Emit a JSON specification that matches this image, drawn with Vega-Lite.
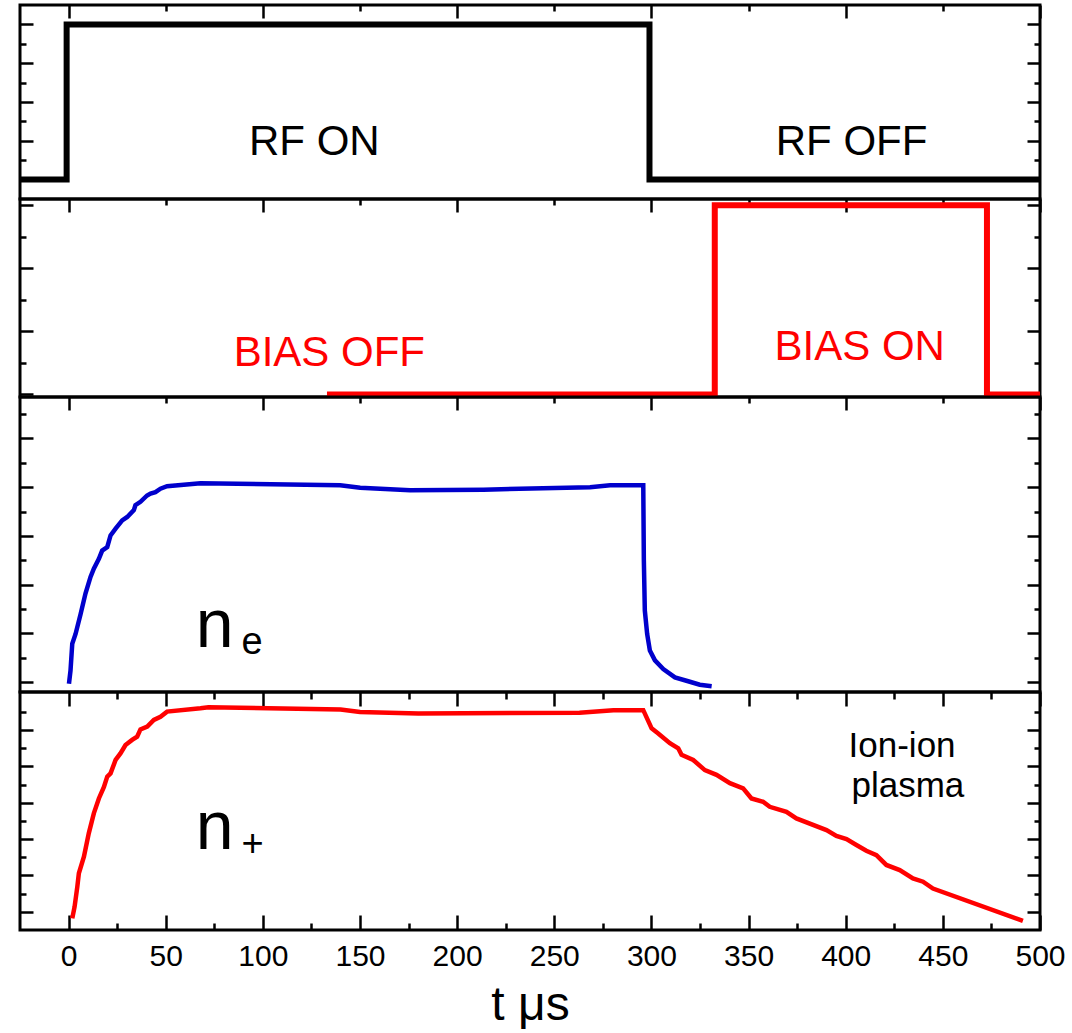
{
"$schema":"https://vega.github.io/schema/vega-lite/v6.json",
"padding":{"left":6,"top":2,"right":5,"bottom":0},
"spacing":0,
"bounds":"flush",
"config":{
 "view":{"stroke":"black","strokeWidth":3},
 "axis":{"labels":false,"domain":false,"grid":false,"tickColor":"black","tickWidth":2.5,"minExtent":0,"maxExtent":0,"titlePadding":0},
 "text":{"font":"Liberation Sans"}
},
"datasets":{
 "rf":[{"t":-25,"v":0},{"t":-1,"v":4},{"t":299,"v":0},{"t":500,"v":0}],
 "bias":[{"t":133,"v":0},{"t":332.6,"v":3},{"t":472.7,"v":0},{"t":500,"v":0}],
 "ne":[{"t":0.2,"v":-0.03},{"t":1.0,"v":0.24},{"t":1.9,"v":0.79},{"t":3.6,"v":0.99},{"t":6.2,"v":1.40},{"t":8.7,"v":1.82},{"t":11.3,"v":2.16},{"t":13.0,"v":2.33},{"t":15.6,"v":2.53},{"t":17.3,"v":2.70},{"t":19.9,"v":2.77},{"t":21.6,"v":3.01},{"t":24.2,"v":3.15},{"t":27.6,"v":3.32},{"t":30.2,"v":3.39},{"t":33.6,"v":3.53},{"t":34.4,"v":3.63},{"t":37.0,"v":3.70},{"t":40.4,"v":3.83},{"t":42.2,"v":3.87},{"t":44.7,"v":3.90},{"t":47.3,"v":3.97},{"t":50.7,"v":4.02},{"t":67.9,"v":4.08},{"t":139.8,"v":4.04},{"t":150.1,"v":3.99},{"t":175.8,"v":3.94},{"t":213.5,"v":3.95},{"t":268.4,"v":4.0},{"t":278.7,"v":4.04},{"t":295.8,"v":4.04},{"t":296.1,"v":2.5},{"t":296.6,"v":1.47},{"t":297.8,"v":0.99},{"t":299.2,"v":0.65},{"t":301.8,"v":0.45},{"t":306.1,"v":0.27},{"t":312.1,"v":0.10},{"t":318.9,"v":0.02},{"t":324.9,"v":-0.05},{"t":331.0,"v":-0.08}],
 "np":[{"t":1.9,"v":-0.18},{"t":3.1,"v":0.14},{"t":4.5,"v":0.69},{"t":5.3,"v":1.06},{"t":7.9,"v":1.52},{"t":10.4,"v":2.16},{"t":13.0,"v":2.71},{"t":15.6,"v":3.12},{"t":18.2,"v":3.44},{"t":19.9,"v":3.72},{"t":21.6,"v":3.81},{"t":24.2,"v":4.18},{"t":26.7,"v":4.36},{"t":29.3,"v":4.59},{"t":32.7,"v":4.73},{"t":35.3,"v":4.82},{"t":37.0,"v":5.02},{"t":40.5,"v":5.10},{"t":43.9,"v":5.28},{"t":47.3,"v":5.37},{"t":50.7,"v":5.51},{"t":67.9,"v":5.60},{"t":72,"v":5.63},{"t":140,"v":5.57},{"t":150,"v":5.50},{"t":180,"v":5.46},{"t":263,"v":5.48},{"t":280.4,"v":5.55},{"t":295.8,"v":5.55},{"t":300.1,"v":5.05},{"t":303.5,"v":4.91},{"t":309.5,"v":4.64},{"t":313.8,"v":4.50},{"t":315.5,"v":4.32},{"t":321.5,"v":4.18},{"t":327.5,"v":3.90},{"t":333.5,"v":3.77},{"t":340.4,"v":3.54},{"t":347.2,"v":3.40},{"t":351.5,"v":3.12},{"t":357.5,"v":3.03},{"t":360.9,"v":2.89},{"t":369.5,"v":2.75},{"t":374.6,"v":2.57},{"t":390.1,"v":2.25},{"t":395.2,"v":2.09},{"t":400.4,"v":2.0},{"t":405.5,"v":1.84},{"t":410.6,"v":1.68},{"t":415.8,"v":1.56},{"t":420.9,"v":1.29},{"t":427.8,"v":1.15},{"t":434.6,"v":0.92},{"t":439.8,"v":0.83},{"t":444.9,"v":0.64},{"t":491.2,"v":-0.25}]
},
"vconcat":[
 {"width":1020,"height":194,
  "resolve":{"axis":{"x":"independent","y":"independent"}},
  "layer":[
   {"data":{"name":"rf"},"mark":{"type":"line","color":"black","strokeWidth":6,"interpolate":"step-after"},
    "encoding":{
     "x":{"field":"t","type":"quantitative","scale":{"domain":[-25,500],"nice":false,"zero":false},"axis":{"orient":"top","values":[0,100,200,300,400,500],"tickSize":-13,"title":null}},
     "y":{"field":"v","type":"quantitative","scale":{"domain":[-0.5,4.5],"nice":false,"zero":false},"axis":{"orient":"left","values":[0,1,2,3,4],"tickSize":-13,"title":null}}}},
   {"data":{"name":"rf"},"mark":{"type":"point","opacity":0},
    "encoding":{
     "x":{"field":"t","type":"quantitative","scale":{"domain":[-25,500],"nice":false,"zero":false},"axis":{"orient":"top","values":[50,150,250,350,450],"tickSize":-6,"title":null}},
     "y":{"field":"v","type":"quantitative","scale":{"domain":[-0.5,4.5],"nice":false,"zero":false},"axis":{"orient":"left","values":[0.5,1.5,2.5,3.5],"tickSize":-6,"title":null}}}},
   {"data":{"name":"rf"},"mark":{"type":"point","opacity":0},
    "encoding":{
     "x":{"field":"t","type":"quantitative","scale":{"domain":[-25,500],"nice":false,"zero":false},"axis":null},
     "y":{"field":"v","type":"quantitative","scale":{"domain":[-0.5,4.5],"nice":false,"zero":false},"axis":{"orient":"right","values":[0,1,2,3,4],"tickSize":-13,"title":null}}}},
   {"data":{"name":"rf"},"mark":{"type":"point","opacity":0},
    "encoding":{
     "x":{"field":"t","type":"quantitative","scale":{"domain":[-25,500],"nice":false,"zero":false},"axis":null},
     "y":{"field":"v","type":"quantitative","scale":{"domain":[-0.5,4.5],"nice":false,"zero":false},"axis":{"orient":"right","values":[0.5,1.5,2.5,3.5],"tickSize":-6,"title":null}}}},
   {"data":{"values":[{"t":126.5,"v":0.96,"label":"RF ON"},{"t":403,"v":0.96,"label":"RF OFF"}]},
    "mark":{"type":"text","fontSize":42,"color":"black","align":"center","baseline":"middle"},
    "encoding":{
     "x":{"field":"t","type":"quantitative","scale":{"domain":[-25,500],"nice":false,"zero":false},"axis":null},
     "y":{"field":"v","type":"quantitative","scale":{"domain":[-0.5,4.5],"nice":false,"zero":false},"axis":null},
     "text":{"field":"label"}}}
  ]},
 {"width":1020,"height":198,
  "resolve":{"axis":{"x":"independent","y":"independent"}},
  "layer":[
   {"data":{"name":"bias"},"mark":{"type":"line","color":"#ff0000","strokeWidth":6,"interpolate":"step-after"},
    "encoding":{
     "x":{"field":"t","type":"quantitative","scale":{"domain":[-25,500],"nice":false,"zero":false},"axis":{"orient":"top","values":[0,100,200,300,400,500],"tickSize":-13,"title":null}},
     "y":{"field":"v","type":"quantitative","scale":{"domain":[-0.04,3.1],"nice":false,"zero":false},"axis":{"orient":"left","values":[0,1,2,3],"tickSize":-13,"title":null}}}},
   {"data":{"name":"bias"},"mark":{"type":"point","opacity":0},
    "encoding":{
     "x":{"field":"t","type":"quantitative","scale":{"domain":[-25,500],"nice":false,"zero":false},"axis":{"orient":"top","values":[50,150,250,350,450],"tickSize":-6,"title":null}},
     "y":{"field":"v","type":"quantitative","scale":{"domain":[-0.04,3.1],"nice":false,"zero":false},"axis":{"orient":"left","values":[0.5,1.5,2.5],"tickSize":-6,"title":null}}}},
   {"data":{"name":"bias"},"mark":{"type":"point","opacity":0},
    "encoding":{
     "x":{"field":"t","type":"quantitative","scale":{"domain":[-25,500],"nice":false,"zero":false},"axis":null},
     "y":{"field":"v","type":"quantitative","scale":{"domain":[-0.04,3.1],"nice":false,"zero":false},"axis":{"orient":"right","values":[0,1,2,3],"tickSize":-13,"title":null}}}},
   {"data":{"name":"bias"},"mark":{"type":"point","opacity":0},
    "encoding":{
     "x":{"field":"t","type":"quantitative","scale":{"domain":[-25,500],"nice":false,"zero":false},"axis":null},
     "y":{"field":"v","type":"quantitative","scale":{"domain":[-0.04,3.1],"nice":false,"zero":false},"axis":{"orient":"right","values":[0.5,1.5,2.5],"tickSize":-6,"title":null}}}},
   {"data":{"values":[{"t":134.2,"v":0.66,"label":"BIAS OFF"},{"t":407.2,"v":0.76,"label":"BIAS ON"}]},
    "mark":{"type":"text","fontSize":42,"color":"#ff0000","align":"center","baseline":"middle"},
    "encoding":{
     "x":{"field":"t","type":"quantitative","scale":{"domain":[-25,500],"nice":false,"zero":false},"axis":null},
     "y":{"field":"v","type":"quantitative","scale":{"domain":[-0.04,3.1],"nice":false,"zero":false},"axis":null},
     "text":{"field":"label"}}}
  ]},
 {"width":1020,"height":295,
  "resolve":{"axis":{"x":"independent","y":"independent"}},
  "layer":[
   {"data":{"name":"ne"},"mark":{"type":"line","color":"#0000cc","strokeWidth":4.5},
    "encoding":{
     "x":{"field":"t","type":"quantitative","scale":{"domain":[-25,500],"nice":false,"zero":false},"axis":{"orient":"top","values":[0,100,200,300,400,500],"tickSize":-13,"title":null}},
     "y":{"field":"v","type":"quantitative","scale":{"domain":[-0.2,5.85],"nice":false,"zero":false},"axis":{"orient":"left","values":[0,1,2,3,4,5],"tickSize":-13,"title":null}}}},
   {"data":{"name":"ne"},"mark":{"type":"point","opacity":0},
    "encoding":{
     "x":{"field":"t","type":"quantitative","scale":{"domain":[-25,500],"nice":false,"zero":false},"axis":{"orient":"top","values":[50,150,250,350,450],"tickSize":-6,"title":null}},
     "y":{"field":"v","type":"quantitative","scale":{"domain":[-0.2,5.85],"nice":false,"zero":false},"axis":{"orient":"left","values":[0.5,1.5,2.5,3.5,4.5,5.5],"tickSize":-6,"title":null}}}},
   {"data":{"name":"ne"},"mark":{"type":"point","opacity":0},
    "encoding":{
     "x":{"field":"t","type":"quantitative","scale":{"domain":[-25,500],"nice":false,"zero":false},"axis":null},
     "y":{"field":"v","type":"quantitative","scale":{"domain":[-0.2,5.85],"nice":false,"zero":false},"axis":{"orient":"right","values":[0,1,2,3,4,5],"tickSize":-13,"title":null}}}},
   {"data":{"name":"ne"},"mark":{"type":"point","opacity":0},
    "encoding":{
     "x":{"field":"t","type":"quantitative","scale":{"domain":[-25,500],"nice":false,"zero":false},"axis":null},
     "y":{"field":"v","type":"quantitative","scale":{"domain":[-0.2,5.85],"nice":false,"zero":false},"axis":{"orient":"right","values":[0.5,1.5,2.5,3.5,4.5,5.5],"tickSize":-6,"title":null}}}},
   {"data":{"values":[{"t":65.5,"v":0.72,"label":"n"}]},
    "mark":{"type":"text","fontSize":68,"color":"black","align":"left","baseline":"alphabetic"},
    "encoding":{
     "x":{"field":"t","type":"quantitative","scale":{"domain":[-25,500],"nice":false,"zero":false},"axis":null},
     "y":{"field":"v","type":"quantitative","scale":{"domain":[-0.2,5.85],"nice":false,"zero":false},"axis":null},
     "text":{"field":"label"}}},
   {"data":{"values":[{"t":89,"v":0.57,"label":"e"}]},
    "mark":{"type":"text","fontSize":38,"color":"black","align":"left","baseline":"alphabetic"},
    "encoding":{
     "x":{"field":"t","type":"quantitative","scale":{"domain":[-25,500],"nice":false,"zero":false},"axis":null},
     "y":{"field":"v","type":"quantitative","scale":{"domain":[-0.2,5.85],"nice":false,"zero":false},"axis":null},
     "text":{"field":"label"}}}
  ]},
 {"width":1020,"height":238,
  "resolve":{"axis":{"x":"independent","y":"independent"}},
  "layer":[
   {"data":{"name":"np"},"mark":{"type":"line","color":"#ff0000","strokeWidth":4.5},
    "encoding":{
     "x":{"field":"t","type":"quantitative","scale":{"domain":[-25,500],"nice":false,"zero":false},"axis":{"orient":"top","values":[0,50,100,150,200,250,300,350,400,450,500],"tickSize":-14,"title":null}},
     "y":{"field":"v","type":"quantitative","scale":{"domain":[-0.5,6.05],"nice":false,"zero":false},"axis":{"orient":"left","values":[0,1,2,3,4,5],"tickSize":-13,"title":null}}}},
   {"data":{"name":"np"},"mark":{"type":"point","opacity":0},
    "encoding":{
     "x":{"field":"t","type":"quantitative","scale":{"domain":[-25,500],"nice":false,"zero":false},"axis":{"orient":"top","values":[25,75,125,175,225,275,325,375,425,475],"tickSize":-7,"title":null}},
     "y":{"field":"v","type":"quantitative","scale":{"domain":[-0.5,6.05],"nice":false,"zero":false},"axis":{"orient":"left","values":[0.5,1.5,2.5,3.5,4.5,5.5],"tickSize":-6,"title":null}}}},
   {"data":{"name":"np"},"mark":{"type":"point","opacity":0},
    "encoding":{
     "x":{"field":"t","type":"quantitative","scale":{"domain":[-25,500],"nice":false,"zero":false},"axis":{"orient":"bottom","values":[0,50,100,150,200,250,300,350,400,450,500],"tickSize":-15,"labels":true,"labelFontSize":30,"labelFont":"Liberation Sans","labelColor":"black","labelPadding":26,"labelFlush":false,"labelOverlap":false,"title":"t μs","titleFont":"Liberation Sans","titleFontSize":48,"titleFontWeight":"normal","titleColor":"black","titlePadding":10,"maxExtent":200}},
     "y":{"field":"v","type":"quantitative","scale":{"domain":[-0.5,6.05],"nice":false,"zero":false},"axis":{"orient":"right","values":[0,1,2,3,4,5],"tickSize":-13,"title":null}}}},
   {"data":{"name":"np"},"mark":{"type":"point","opacity":0},
    "encoding":{
     "x":{"field":"t","type":"quantitative","scale":{"domain":[-25,500],"nice":false,"zero":false},"axis":{"orient":"bottom","values":[25,75,125,175,225,275,325,375,425,475],"tickSize":-7,"title":null}},
     "y":{"field":"v","type":"quantitative","scale":{"domain":[-0.5,6.05],"nice":false,"zero":false},"axis":{"orient":"right","values":[0.5,1.5,2.5,3.5,4.5,5.5],"tickSize":-6,"title":null}}}},
   {"data":{"values":[{"t":65.5,"v":1.72,"label":"n"}]},
    "mark":{"type":"text","fontSize":68,"color":"black","align":"left","baseline":"alphabetic"},
    "encoding":{
     "x":{"field":"t","type":"quantitative","scale":{"domain":[-25,500],"nice":false,"zero":false},"axis":null},
     "y":{"field":"v","type":"quantitative","scale":{"domain":[-0.5,6.05],"nice":false,"zero":false},"axis":null},
     "text":{"field":"label"}}},
   {"data":{"values":[{"t":89,"v":1.55,"label":"+"}]},
    "mark":{"type":"text","fontSize":38,"color":"black","align":"left","baseline":"alphabetic"},
    "encoding":{
     "x":{"field":"t","type":"quantitative","scale":{"domain":[-25,500],"nice":false,"zero":false},"axis":null},
     "y":{"field":"v","type":"quantitative","scale":{"domain":[-0.5,6.05],"nice":false,"zero":false},"axis":null},
     "text":{"field":"label"}}},
   {"data":{"values":[{"t":429,"v":4.26,"label":"Ion-ion"},{"t":432,"v":3.16,"label":"plasma"}]},
    "mark":{"type":"text","fontSize":35,"color":"black","align":"center","baseline":"alphabetic"},
    "encoding":{
     "x":{"field":"t","type":"quantitative","scale":{"domain":[-25,500],"nice":false,"zero":false},"axis":null},
     "y":{"field":"v","type":"quantitative","scale":{"domain":[-0.5,6.05],"nice":false,"zero":false},"axis":null},
     "text":{"field":"label"}}}
  ]}
]
}
